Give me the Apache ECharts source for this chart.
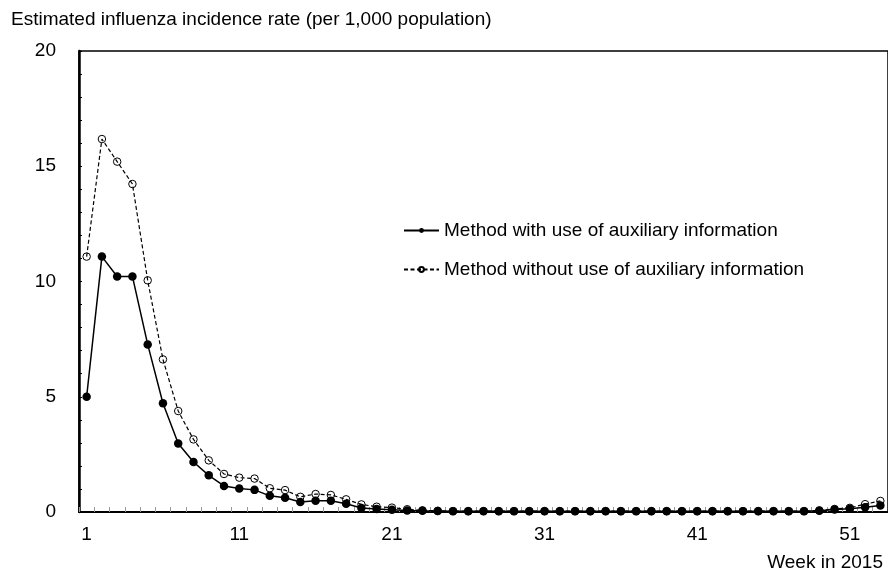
<!DOCTYPE html>
<html>
<head>
<meta charset="utf-8">
<script src="https://cdn.jsdelivr.net/npm/echarts@6/dist/echarts.min.js"></script>
<style>
html,body{margin:0;padding:0;background:#fff;}
#chart{width:888px;height:574px;}
</style>
</head>
<body>
<div id="chart"></div>
<script>
var weeks = ['1','2','3','4','5','6','7','8','9','10','11','12','13','14','15','16','17','18','19','20',
  '21','22','23','24','25','26','27','28','29','30','31','32','33','34','35','36','37','38','39','40',
  '41','42','43','44','45','46','47','48','49','50','51','52','53'];

var withAux = [5.0, 11.08, 10.22, 10.22, 7.27, 4.72, 2.97, 2.17, 1.59, 1.13,
  1.02, 0.96, 0.70, 0.62, 0.43, 0.49, 0.49, 0.36, 0.17, 0.13,
  0.10, 0.07, 0.05, 0.04, 0.03, 0.03, 0.03, 0.03, 0.03, 0.03,
  0.03, 0.03, 0.03, 0.03, 0.03, 0.03, 0.03, 0.03, 0.03, 0.03,
  0.03, 0.03, 0.03, 0.03, 0.03, 0.03, 0.03, 0.03, 0.05, 0.11,
  0.14, 0.21, 0.28];

var withoutAux = [11.08, 16.18, 15.2, 14.23, 10.05, 6.62, 4.38, 3.15, 2.24, 1.65,
  1.49, 1.45, 1.03, 0.95, 0.66, 0.78, 0.74, 0.55, 0.33, 0.23,
  0.19, 0.12, 0.07, 0.05, 0.04, 0.04, 0.04, 0.04, 0.04, 0.04,
  0.04, 0.04, 0.04, 0.04, 0.04, 0.04, 0.04, 0.04, 0.04, 0.04,
  0.04, 0.04, 0.04, 0.04, 0.04, 0.04, 0.04, 0.04, 0.07, 0.13,
  0.18, 0.34, 0.48];

var seriesNames = ['Method with use of auxiliary information', 'Method without use of auxiliary information'];
var yTitle = 'Estimated influenza incidence rate (per 1,000 population)';
var xTitle = 'Week in 2015';

var FONT = 'Liberation Sans, Arial, sans-serif';
var FS = 19;
var chart = echarts.init(document.getElementById('chart'), null, {renderer: 'canvas'});
chart.setOption({
  animation: false,
  backgroundColor: '#fff',
  textStyle: {fontFamily: FONT, color: '#000'},
  title: {
    text: yTitle,
    left: 11, top: 10, padding: 0,
    textStyle: {fontSize: FS, fontWeight: 'normal', color: '#000', fontFamily: FONT}
  },
  legend: {
    orient: 'vertical',
    left: 403, top: 221, padding: 0,
    itemWidth: 35, itemHeight: 6, itemGap: 20,
    data: seriesNames,
    textStyle: {fontSize: FS, color: '#000', fontFamily: FONT}
  },
  grid: {
    left: 79, top: 51, bottom: 62, right: -11,
    show: true, borderColor: '#000', borderWidth: 1.5,
    containLabel: false
  },
  graphic: [{
    type: 'text',
    x: 883, y: 563,
    style: {text: xTitle, fontSize: FS, fontFamily: FONT, fill: '#000', textAlign: 'right', textVerticalAlign: 'middle'}
  }],
  xAxis: {
    type: 'category',
    data: weeks,
    boundaryGap: true,
    axisLine: {lineStyle: {color: '#000', width: 2}},
    axisTick: {show: true, inside: true, length: 5, interval: 0, lineStyle: {color: '#999', width: 1}},
    axisLabel: {
      interval: function (idx) { return idx % 10 === 0; },
      fontSize: FS, color: '#000', margin: 13, fontFamily: FONT
    },
    splitLine: {show: false}
  },
  yAxis: {
    type: 'value',
    min: 0, max: 20, interval: 1,
    axisLine: {show: true, lineStyle: {color: '#000', width: 2.5}},
    axisTick: {show: true, inside: true, length: 3, lineStyle: {color: '#000', width: 1}},
    axisLabel: {
      formatter: function (v) { return v % 5 === 0 ? String(v) : ''; },
      fontSize: FS, color: '#000', margin: 23, fontFamily: FONT
    },
    splitLine: {show: false}
  },
  series: [{
    name: seriesNames[1],
    type: 'line',
    data: withoutAux,
    symbol: 'circle',
    symbolSize: 7.5,
    showAllSymbol: true,
    lineStyle: {color: '#000', width: 1.2, type: [4, 2.5]},
    itemStyle: {color: 'rgba(255,255,255,0)', borderColor: '#000', borderWidth: 1},
    z: 2
  }, {
    name: seriesNames[0],
    type: 'line',
    data: withAux,
    symbol: 'circle',
    symbolSize: 8.5,
    showAllSymbol: true,
    lineStyle: {color: '#000', width: 1.5},
    itemStyle: {color: '#000', borderColor: '#000', borderWidth: 0},
    z: 3
  }]
});
</script>
</body>
</html>
